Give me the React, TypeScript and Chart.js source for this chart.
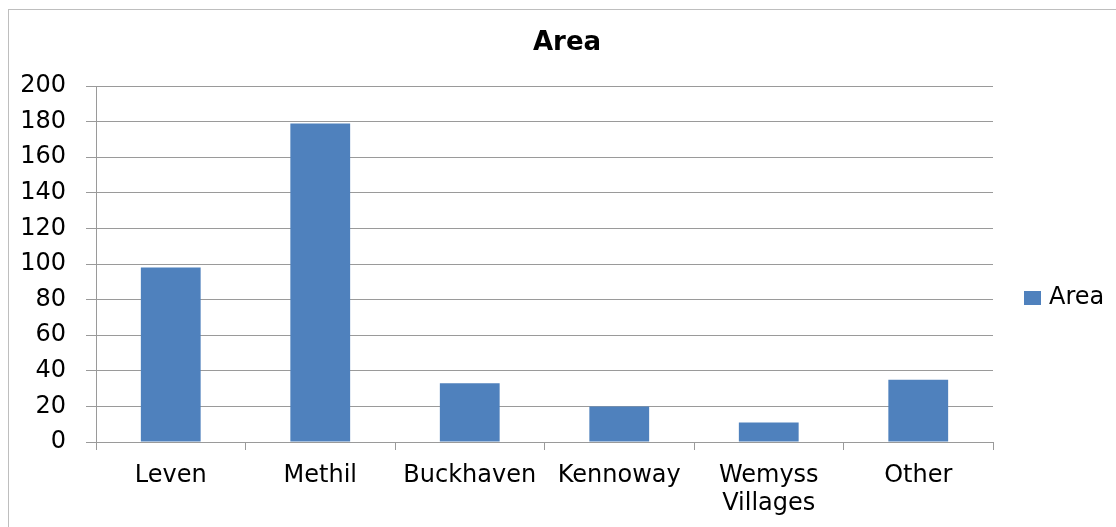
import React, { useEffect, useRef } from "react";
import { Chart, registerables, layouts } from "chart.js";

Chart.register(...registerables);

// Chart data
const categories: (string | string[])[] = [
  "Leven",
  "Methil",
  "Buckhaven",
  "Kennoway",
  ["Wemyss", "Villages"],
  "Other",
];
const areaValues: number[] = [98, 179, 33, 20, 11, 35];
const seriesLabel = "Area";
const chartTitle = "Area";
const yMin = 0;
const yMax = 200;
const yStep = 20;

// Styling
const FONT = "'DejaVu Sans', sans-serif";
const BAR_COLOR = "#4F81BD";
const GRID_COLOR = "#9A9A9A";
const WIDTH = 1116;
const HEIGHT = 527;
const LEGEND_WIDTH = 123;
const LEGEND_CENTER_Y = 298;

// A right-hand layout box that reserves room for, and draws, the series key.
const sideLegend = {
  id: "sideLegend",
  beforeInit(chart: any) {
    const box: any = {
      position: "right",
      weight: 1000,
      fullSize: false,
      options: { stackWeight: 1 },
      left: 0,
      top: 0,
      right: 0,
      bottom: 0,
      width: 0,
      height: 0,
      isHorizontal: () => false,
      update(_maxWidth: number, maxHeight: number) {
        box.width = LEGEND_WIDTH;
        box.height = maxHeight;
      },
      draw() {
        const ds = chart.data.datasets[0];
        const ctx = chart.ctx;
        ctx.save();
        ctx.fillStyle = ds.backgroundColor;
        ctx.fillRect(box.left + 31, LEGEND_CENTER_Y - 7, 17, 14);
        ctx.font = `24px ${FONT}`;
        ctx.fillStyle = "#000000";
        ctx.textAlign = "left";
        ctx.textBaseline = "middle";
        ctx.fillText(ds.label, box.left + 56, LEGEND_CENTER_Y);
        ctx.restore();
      },
    };
    layouts.addBox(chart, box);
  },
};

export default function App() {
  const canvasRef = useRef<HTMLCanvasElement | null>(null);

  useEffect(() => {
    if (!canvasRef.current) return;
    const chart = new Chart(canvasRef.current, {
      type: "bar",
      data: {
        labels: categories,
        datasets: [
          {
            label: seriesLabel,
            data: areaValues,
            backgroundColor: BAR_COLOR,
            borderWidth: 0,
            barPercentage: 0.4,
            categoryPercentage: 1.0,
          },
        ],
      },
      options: {
        responsive: false,
        animation: false,
        devicePixelRatio: 1,
        layout: { padding: { left: 18, right: 0, top: 0, bottom: 0 } },
        plugins: {
          legend: { display: false },
          tooltip: { enabled: false },
          title: {
            display: true,
            text: chartTitle,
            color: "#000000",
            font: { family: FONT, size: 26, weight: "bold" },
            padding: { top: 27.4, bottom: 27.4 },
          },
        },
        scales: {
          x: {
            offset: true,
            grid: {
              display: true,
              offset: true,
              drawOnChartArea: false,
              drawTicks: true,
              tickLength: 8,
              color: GRID_COLOR,
            },
            border: { display: true, color: GRID_COLOR },
            ticks: {
              color: "#000000",
              font: { family: FONT, size: 24 },
              padding: 11,
              maxRotation: 0,
              autoSkip: false,
            },
            afterFit(scale: any) {
              scale.height = 85;
            },
          },
          y: {
            min: yMin,
            max: yMax,
            grid: {
              color: GRID_COLOR,
              drawTicks: true,
              tickLength: 10,
            },
            border: { display: true, color: GRID_COLOR },
            ticks: {
              stepSize: yStep,
              color: "#000000",
              font: { family: FONT, size: 24 },
              padding: 20,
            },
            afterFit(scale: any) {
              scale.width = 78;
            },
          },
        },
      },
      plugins: [sideLegend],
    } as any);
    return () => chart.destroy();
  }, []);

  return (
    <div
      style={{
        position: "fixed",
        left: 0,
        top: 0,
        width: WIDTH,
        height: HEIGHT,
        overflow: "hidden",
        background: "#ffffff",
      }}
    >
      <div
        style={{
          position: "absolute",
          left: 8,
          top: 9,
          width: 1300,
          height: 800,
          border: "1px solid #BEBEBE",
          boxSizing: "border-box",
        }}
      />
      <canvas
        ref={canvasRef}
        width={WIDTH}
        height={HEIGHT}
        style={{ position: "absolute", left: 0, top: 0, display: "block" }}
      />
    </div>
  );
}
